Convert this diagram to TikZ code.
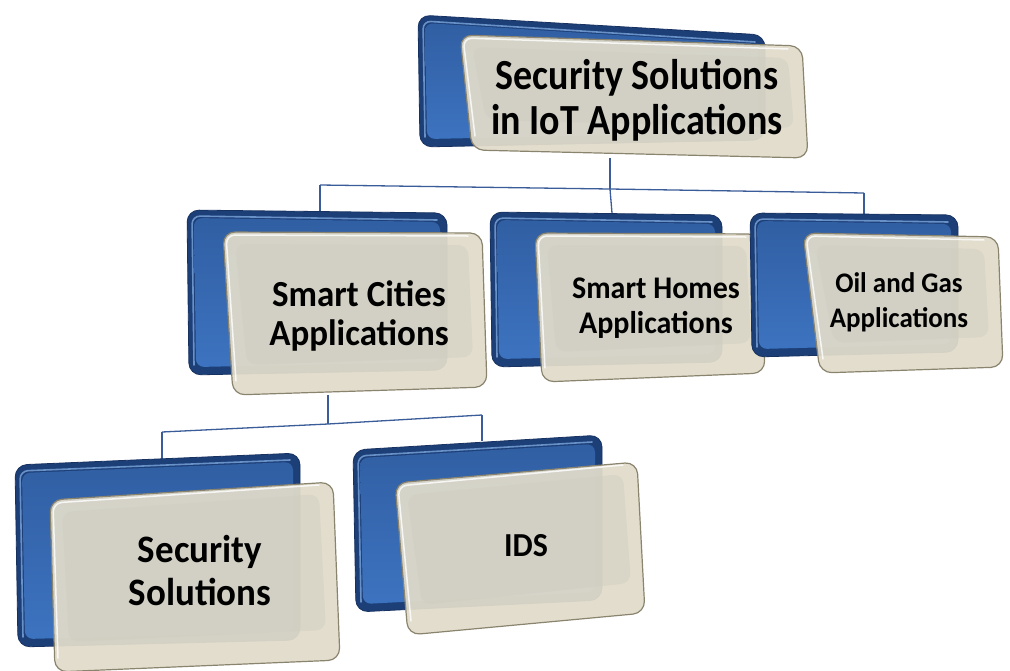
\documentclass[tikz,border=0pt]{standalone}
\usepackage{fontspec}
\setmainfont{Carlito}
\usetikzlibrary{calc}
\definecolor{rimdark}{HTML}{1D3F78}
\definecolor{rimlight}{HTML}{4C8AD8}
\definecolor{faceblue}{HTML}{3669B5}
\definecolor{cardfill}{HTML}{E0DBCA}
\definecolor{cardinner}{HTML}{CFCDC0}
\definecolor{cardedge}{HTML}{8A846F}
\definecolor{linkblue}{HTML}{3A5C98}
\tikzset{
  backrim/.style={fill=rimdark, draw=rimdark!80!black, line width=0.8pt, rounded corners=12pt},
  backface/.style={top color=faceblue!90!black, bottom color=faceblue!70!rimlight, rounded corners=8pt},
  backbevel/.style={draw=rimlight!70!white, line width=1.6pt, line cap=round, opacity=0.75, rounded corners=8pt},
  card/.style={fill=cardfill, fill opacity=0.94, draw=cardedge, line width=1.2pt, rounded corners=12pt},
  cardpanel/.style={fill=cardinner, fill opacity=0.45, rounded corners=10pt},
  cardgloss/.style={draw=white, line width=1.5pt, opacity=0.8, line cap=round, rounded corners=9pt},
  label/.style={align=center, text=black, inner sep=0pt},
  link/.style={draw=linkblue, line width=1.3pt}
}
% one 3-D card: #1..#4 back corners, #5..#8 front corners
\newcommand{\iotcard}[8]{%
  \path[backrim] #1 -- #2 -- #3 -- #4 -- cycle;
  \path[backface] ($#1+(7,8)$) -- ($#2+(-7,9)$) -- ($#3+(-7,-8)$) -- ($#4+(7,-8)$) -- cycle;
  \path[backbevel] ($#4+(5,-10)$) -- ($#1+(5,6)$) -- ($#2+(-10,7)$);
  \path[card] #5 -- #6 -- #7 -- #8 -- cycle;
  \path[cardpanel] ($#5+(12,12)$) -- ($#6+(-14,12)$) -- ($#7+(-14,-30)$) -- ($#8+(14,-30)$) -- cycle;
  \path[cardgloss] ($#8+(3,-14)$) -- ($#5+(3,3)$) -- ($#6+(-14,3)$);
}
% stacked label text: vertical stretch, font size, line distance, lines
\newcommand{\cardtext}[4]{\scalebox{1}[#1]{\fontsize{#2}{#3}\selectfont\bfseries
  \renewcommand{\arraystretch}{1}\begin{tabular}{@{}c@{}}#4\end{tabular}}}
\begin{document}
\begin{tikzpicture}[x=1pt, y=-1pt]
\useasboundingbox (0,0) rectangle (1010,670);

% connector junctions
\coordinate (topfoot) at (610,158);
\coordinate (barL) at (320,185);
\coordinate (barM) at (610,189);
\coordinate (barR) at (864,193);
\coordinate (cityfoot) at (328,395);
\coordinate (bar2L) at (162,432);
\coordinate (bar2M) at (328,424);
\coordinate (bar2R) at (482,415);
\coordinate (inCity) at (320,211);
\coordinate (inHome) at (612,213);
\coordinate (inOil) at (864,214);
\coordinate (inSec) at (162,460);
\coordinate (inIDS) at (482,441);

\draw[link] (topfoot) -- (barM);
\draw[link] (barL) -- (barM) -- (barR);
\draw[link] (barL) -- (inCity);
\draw[link] (barM) -- (inHome);
\draw[link] (barR) -- (inOil);
\draw[link] (cityfoot) -- (bar2M);
\draw[link] (bar2L) -- (bar2M) -- (bar2R);
\draw[link] (bar2L) -- (inSec);
\draw[link] (bar2R) -- (inIDS);

% root
\iotcard{(418,15)}{(765,35)}{(765,140)}{(420,147)}{(460,35)}{(802,46)}{(808,158)}{(472,150)}
\node[label] (root) at (637,103) {\cardtext{1.13}{38}{40}{Security Solutions\\in IoT Applications}};

% second level
\iotcard{(187,210)}{(447,213)}{(447,370)}{(189,375)}{(223,232)}{(482,233)}{(487,387)}{(233,395)}
\node[label] (city) at (359,318) {\cardtext{1.05}{35}{38}{Smart Cities\\Applications}};

\iotcard{(490,212)}{(722,215)}{(722,362)}{(492,367)}{(535,233)}{(760,234)}{(765,373)}{(542,382)}
\node[label] (home) at (656,309) {\cardtext{1.05}{30}{34}{Smart Homes\\Applications}};

\iotcard{(750,213)}{(958,215)}{(958,352)}{(752,357)}{(803,233)}{(998,237)}{(1003,367)}{(820,373)}
\node[label] (oil) at (899,303) {\cardtext{1.05}{27}{33}{Oil and Gas\\Applications}};

% third level
\iotcard{(15,465)}{(300,453)}{(300,640)}{(18,647)}{(50,500)}{(333,482)}{(340,660)}{(55,672)}
\node[label] (sec) at (200,575) {\cardtext{1.05}{37}{41}{Security\\Solutions}};

\iotcard{(353,450)}{(602,435)}{(602,600)}{(356,612)}{(395,483)}{(637,462)}{(645,613)}{(408,635)}
\node[label] (ids) at (526,549) {\cardtext{1.05}{32}{36}{IDS}};
\end{tikzpicture}
\end{document}
